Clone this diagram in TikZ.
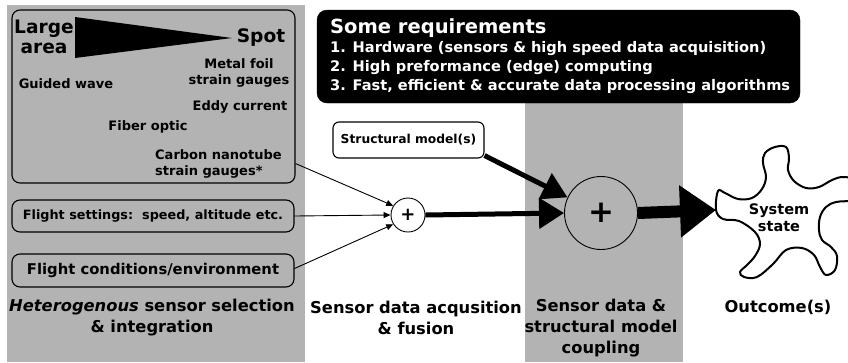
\documentclass[tikz,border=0pt]{standalone}
\usepackage{fontspec}
\setmainfont{DejaVu Sans}
\usetikzlibrary{arrows.meta,calc}
\definecolor{panel}{RGB}{179,179,179}
\tikzset{
  txt/.style={font=\bfseries\fontsize{13}{15}\selectfont, align=center, inner sep=0pt},
  bigtxt/.style={font=\bfseries\fontsize{16.3}{21}\selectfont, align=center, inner sep=0pt},
  reqline/.style={anchor=west, text=white, inner sep=0pt, font=\bfseries\fontsize{14.6}{17}\selectfont},
  sbox/.style={draw, rounded corners=8pt, line width=1.1pt, inner sep=0pt},
  thinarrow/.style={line width=0.9pt, -{Triangle[length=7pt,width=6pt]}},
}
\begin{document}
\begin{tikzpicture}[x=1pt,y=-1pt]
\useasboundingbox (0,0) rectangle (848,362);
\clip (0,0) rectangle (848,362);
% panels
\fill[panel] (7,5) rectangle (305,362);
\fill[panel] (525,103) rectangle (683,362);
% sensor box
\node[sbox, minimum width=283pt, minimum height=173pt] (box1) at (153.5,96.5) {};
\fill (75,17) -- (75,58) -- (232,38) -- cycle;
\node[txt, font=\bfseries\fontsize{18.6}{20}\selectfont] (large) at (44,37) {Large\\area};
\node[txt, font=\bfseries\fontsize{18.6}{20}\selectfont] (spot) at (261,38) {Spot};
\node[txt] (guided) at (66,84) {Guided wave};
\node[txt, font=\bfseries\fontsize{13}{16}\selectfont] (metal) at (239,73) {Metal foil\\strain gauges};
\node[txt] (eddy) at (240,107) {Eddy current};
\node[txt] (fiber) at (148,127) {Fiber optic};
\node[txt, align=left, anchor=west, font=\bfseries\fontsize{13}{16}\selectfont] (carbon) at (155,164) {Carbon nanotube\\strain gauges*};
% flight boxes
\node[sbox, minimum width=282pt, minimum height=32pt, font=\bfseries\fontsize{12.8}{14}\selectfont] (fs) at (153,216) {Flight settings:\ \ speed, altitude etc.};
\node[sbox, minimum width=282pt, minimum height=33pt, font=\bfseries\fontsize{14.8}{16}\selectfont] (fc) at (153,270.5) {Flight conditions/environment};
% bottom labels
\node[bigtxt] (lab1) at (152,317.5) {\textit{Heterogenous} sensor selection\\\& integration};
\node[bigtxt] (lab2) at (416,317.5) {Sensor data acqusition\\\& fusion};
\node[bigtxt] (lab3) at (601,328) {Sensor data \&\\structural model\\coupling};
\node[bigtxt] (lab4) at (778,307) {Outcome(s)};
% requirements box
\node[draw, fill=black, rounded corners=10pt, minimum width=483pt, minimum height=93pt] (req) at (558.5,56.5) {};
\node[reqline, font=\bfseries\fontsize{19.5}{20}\selectfont] (reqt) at (330,28) {Some requirements};
\node[reqline] (req1) at (330,48.5) {1. Hardware (sensors \& high speed data acquisition)};
\node[reqline] (req2) at (330,67.5) {2. High preformance (edge) computing};
\node[reqline] (req3) at (330,86.5) {3. Fast, efficient \& accurate data processing algorithms};
% structural model
\node[sbox, fill=white, rounded corners=6pt, minimum width=151pt, minimum height=36pt, font=\bfseries\fontsize{12.3}{14}\selectfont] (sm) at (408.5,140) {Structural model(s)};
% circles
\node[circle, draw, fill=white, line width=0.9pt, minimum size=34pt, inner sep=0pt, font=\bfseries\fontsize{18}{18}\selectfont] (sc) at (408,215) {+};
\node[circle, draw, fill=panel, line width=0.9pt, minimum size=73pt, inner sep=0pt, font=\bfseries\fontsize{31}{31}\selectfont] (bc) at (601,213) {+};
% system state shape
\filldraw[fill=white, line width=2pt] plot[smooth cycle, tension=0.6] coordinates {
(718,191) (725,193) (738,199) (752,198) (762,189) (766,177) (763,163) (765,153) (775,147) (786,147)
(789,158) (788,170) (794,181) (806,188) (819,187) (832,180) (843,177) (856,180) (860,191)
(853,200) (836,202) (826,207) (820,217) (819,230) (822,240) (831,247) (837,256) (835,270) (826,275)
(820,267) (814,255) (802,248) (786,250) (773,264) (757,277) (744,277) (740,272) (747,265)
(755,256) (760,244) (755,232) (739,221) (723,219) (716,210)};
\coordinate (st) at (716,210);
\node[txt, font=\bfseries\fontsize{14.5}{17}\selectfont] (sys) at (779,218) {System\\state};
% connectors
\draw[thinarrow] ([yshift=20pt]box1.south east) -- (sc.148);
\draw[thinarrow] (fs.east) -- (sc.west);
\draw[thinarrow] ([yshift=2pt]fc.east) -- (sc.212);
\draw[line width=5pt, -{Triangle[length=25pt,width=30pt]}] (sc.east) -- (bc.west);
\draw[line width=5pt, -{Triangle[length=25pt,width=28pt]}] ([yshift=3pt]sm.south east) -- (bc.155);
\draw[line width=12pt, -{Triangle[length=36pt,width=50pt]}] (bc.east) -- (st);
\end{tikzpicture}
\end{document}
